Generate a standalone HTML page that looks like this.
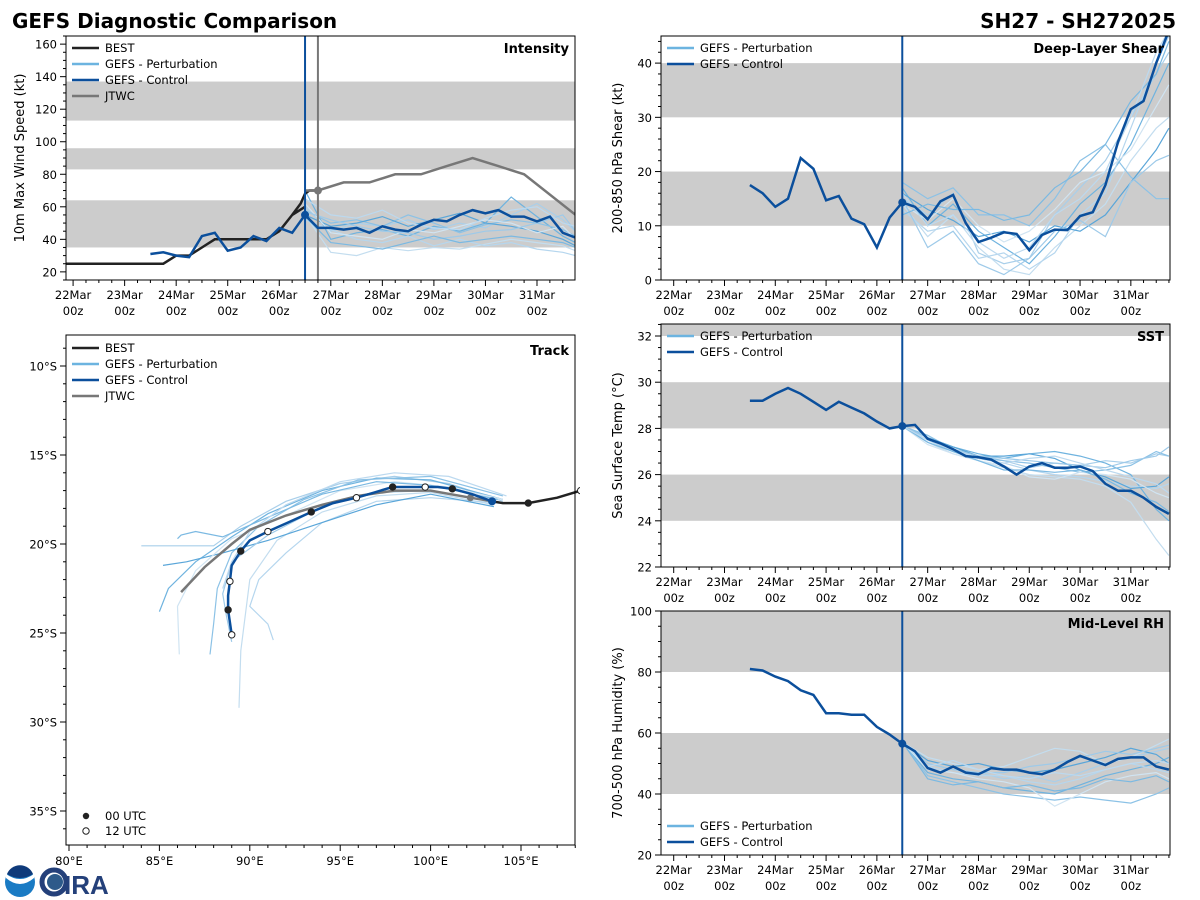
<!DOCTYPE html>
<html><head><meta charset="utf-8"><style>
html,body{margin:0;padding:0;background:#fff;width:1200px;height:900px;overflow:hidden}
svg{display:block;font-family:"DejaVu Sans","Liberation Sans",sans-serif}
</style></head><body>
<svg id="chart" width="1200" height="900" viewBox="0 0 1200 900" xmlns="http://www.w3.org/2000/svg">
<text x="12" y="28" font-size="20" font-weight="bold">GEFS Diagnostic Comparison</text>
<text x="1176" y="28" font-size="20" font-weight="bold" text-anchor="end">SH27 - SH272025</text>
<g>
<circle cx="20" cy="882" r="15" fill="#1a7bc4"/>
<path d="M6,878 Q20,890 34,878 L34,874 Q20,884 6,874Z" fill="#fff"/>
<path d="M7,874 A14,14 0 0 1 33,874 Q20,882 7,874Z" fill="#0e3a7a"/>
<circle cx="54" cy="882" r="12" fill="none" stroke="#24407a" stroke-width="5"/>
<circle cx="55" cy="882" r="8" fill="#2d5a8a"/>
<text x="64" y="894" font-size="26" font-weight="bold" fill="#24407a" font-family="Liberation Sans, sans-serif">IRA</text>
</g>
</svg>
<script>
// ---------- DATA ----------
const dayLabels = ["22Mar","23Mar","24Mar","25Mar","26Mar","27Mar","28Mar","29Mar","30Mar","31Mar"];
const bestTimes = [-6,0,6,12,18,24,30,36,42,48,54,60,66,72,78,84,90,96,102,108];
const bestIntensity = [25,25,25,25,25,25,25,25,25,30,30,35,40,40,40,40,40,45,55,60];
const ctrlTimes = [36,42,48,54,60,66,72,78,84,90,96,102,108,114,120,126,132,138,144,150,156,162,168,174,180,186,192,198,204,210,216,222,228,234];
const ctrlIntensity = [31,32,30,29,42,44,33,35,42,39,47,44,55,47,47,46,47,44,48,46,45,49,52,51,55,58,56,58,54,54,51,54,44,41];
const bestIntTail = [[102,55],[106,62],[108,68],[110,70],[114,70]];
const jtwcTimes = [108,114,126,138,150,162,174,186,198,210,234];
const jtwcIntensity = [70,70,75,75,80,80,85,90,85,80,55];
const pertTimes = [108,120,132,144,156,168,180,192,204,216,228,234];
const pertIntensity = [
[60,45,50,48,52,46,50,47,55,62,52,45],[70,40,44,46,42,48,45,50,66,54,42,38],
[55,32,30,35,33,35,34,37,40,38,36,33],[58,50,52,48,55,50,44,49,52,50,46,42],
[52,46,40,38,42,36,40,36,38,34,32,30],[55,48,50,54,48,52,56,50,48,45,40,36],
[62,44,42,40,46,44,48,52,50,44,48,40],[57,52,48,45,44,40,42,45,46,50,55,45],
[54,38,36,34,38,42,38,40,42,40,38,35],[65,55,53,58,50,47,46,53,58,60,50,48]];
const ctrlShear = [17.5,16,13.5,15,22.5,20.5,14.7,15.5,11.3,10.3,6,11.5,14.3,13.5,11.2,14.5,15.7,10.5,7,7.8,8.8,8.5,5.5,8.3,9.3,9.2,11.8,12.5,17.5,25.5,31.5,33,40,46];
const pertShear = [
[15,12,16,5,3,4,12,17,22,30,38,42],[17,10,14,9,6,3,8,14,18,25,35,40],
[14,8,12,6,2,1,6,10,14,22,28,30],[18,15,17,12,12,10,15,22,25,19,15,15],
[13,9,10,4,5,2,5,12,16,28,40,45],[16,13,11,8,9,7,10,9,12,18,24,28],
[14,11,15,10,7,9,13,18,20,24,32,36],[15,6,9,3,1,4,9,11,8,18,22,23],
[12,14,13,13,11,12,17,20,25,33,38,44],[16,10,12,7,4,6,12,15,20,30,42,46]];
const ctrlSST = [29.2,29.2,29.5,29.75,29.5,29.15,28.8,29.15,28.9,28.65,28.3,28.0,28.1,28.15,27.55,27.35,27.1,26.8,26.75,26.65,26.35,26.0,26.35,26.5,26.3,26.3,26.35,26.15,25.6,25.3,25.3,25.0,24.6,24.3];
const pertSST = [
[28.1,27.5,27.0,26.7,26.6,26.3,26.5,26.4,26.6,26.5,26.9,26.8],[28.1,27.6,27.2,26.9,26.7,26.9,27.0,26.8,26.5,26.0,24.5,24.0],
[28.1,27.4,26.9,26.6,26.3,26.0,25.9,25.8,25.5,24.8,23.2,22.5],[28.1,27.7,27.1,26.8,26.6,26.5,26.3,26.1,26.2,26.4,27.0,26.8],
[28.1,27.5,27.0,26.7,26.5,26.2,26.0,25.9,25.7,25.5,25.4,25.6],[28.1,27.6,27.2,26.8,26.8,26.9,26.7,26.2,25.9,25.4,25.5,25.9],
[28.1,27.3,26.9,26.6,26.4,25.9,25.8,26.1,26.0,25.8,25.2,25.0],[28.1,27.6,27.1,26.8,26.7,26.6,26.5,26.4,26.3,26.6,26.8,27.2],
[28.1,27.4,27.0,26.6,26.2,26.2,26.1,26.2,25.8,25.2,24.8,24.4],[28.1,27.5,27.1,26.7,26.5,26.7,26.8,26.5,26.2,25.9,25.6,25.2]];
const ctrlRH = [81,80.5,78.5,77,74,72.5,66.5,66.5,66,66,62,59.5,56.5,54,48.5,47,49,47,46.5,48.5,48,48,47,46.5,48,50.5,52.5,51,49.5,51.5,52,52,49,48];
const pertRH = [
[57,50,48,47,45,46,44,47,50,52,54,55],[57,47,45,44,42,41,40,43,46,48,50,52],
[57,52,50,48,49,52,55,54,50,52,56,58],[57,46,44,42,40,39,38,39,38,37,40,42],
[57,49,47,46,46,44,43,45,48,50,48,47],[57,51,49,50,48,47,48,50,52,55,53,50],
[57,48,47,45,44,42,36,40,44,46,47,45],[57,50,48,47,47,49,50,52,54,53,55,56],
[57,45,43,44,42,43,41,42,45,44,46,44],[57,49,51,48,46,45,47,46,48,50,51,50]];
// track (lon E, lat negative = S)
const bestLon = [109,108.3,107,105.4,104,103.4];
const bestLat = [-16.8,-17.0,-17.4,-17.7,-17.7,-17.6];
const bestDotType = [null,"open",null,"filled",null,null];
const ctrlLon = [103.4,102.3,101.2,100.4,99.7,98.8,97.9,96.9,95.9,94.6,93.4,92.1,91.0,90.0,89.5,89.0,88.9,88.8,88.8,88.9,89.0];
const ctrlLat = [-17.6,-17.2,-16.9,-16.8,-16.8,-16.8,-16.8,-17.1,-17.4,-17.7,-18.2,-18.8,-19.3,-19.8,-20.4,-21.2,-22.1,-22.9,-23.7,-24.4,-25.1];
const ctrlDotType = [null,null,"filled",null,"open",null,"filled",null,"open",null,"filled",null,"open",null,"filled",null,"open",null,"filled",null,"open"];
const jtwcLon = [103.4,102.2,100,98,96,94,92,90,89,87.5,86.2];
const jtwcLat = [-17.6,-17.4,-17.0,-17.0,-17.3,-17.8,-18.4,-19.2,-20,-21.3,-22.7];
const pertTrackLon = [
[104,101,98,95,92,89.5,88,86,84],[104,100,97,94,91,89,87,85.5,85],[103.5,100,97,94,91.5,90,89.5,89.4],
[104,100,96,93,90.5,89,88.2,88,87.8],[103.8,100,97,94,92,90.5,90,91,91.3],[103.5,100,97,94,91,88.5,86.5,85.2],
[104,101,98,95,92,89,87,86,86.1],[103.5,100,97,94,91,89,88.5,88.7,89],[103.7,100,97,94,91,88.5,87,86.2,86],
[104.2,101,98,95,92,90,89,88.5]];
const pertTrackLat = [
[-17.6,-16.6,-16.2,-16.6,-17.6,-19.0,-20.1,-20.1,-20.1],[-17.5,-16.4,-16.3,-17.0,-18.3,-19.6,-21.0,-22.5,-23.8],[-17.8,-17.1,-17.3,-18.2,-19.8,-22,-26,-29.2],
[-17.3,-16.2,-16.4,-17.5,-19,-20.5,-22.5,-24.5,-26.2],[-17.7,-17.4,-17.6,-18.8,-20.5,-22,-23.5,-24.5,-25.4],[-17.9,-17.2,-17.8,-18.8,-19.8,-20.5,-21,-21.2],
[-17.5,-16.8,-16.5,-17.0,-18.4,-19.7,-21.5,-23.5,-26.2],[-17.6,-17.0,-17.1,-17.9,-19.5,-21,-22.8,-24,-25.5],[-17.5,-16.7,-16.5,-17.2,-18.5,-19.6,-19.3,-19.5,-19.7],
[-17.3,-16.2,-16.0,-16.5,-17.8,-19.3,-21,-22.5]];
const lonTicks = [80,85,90,95,100,105];
const latTicks = [-10,-15,-20,-25,-30,-35];

// ---------- DRAW ----------
const NS = "http://www.w3.org/2000/svg";
const svg = document.getElementById("chart");
const CTRL = "#0b4f9c", PERT = ["#a9cfea","#6fb3df","#c3ddef","#8cc2e6","#b5d6ee","#5aa6d9","#d0e4f2","#9ecae9","#7bb9e2","#bcd9ef"];
const GRAY = "#777777", BAND = "#cccccc";
const FS = 11.5;
function mk(tag, attrs, parent) {
  const e = document.createElementNS(NS, tag);
  for (const k in attrs) e.setAttribute(k, attrs[k]);
  (parent || svg).appendChild(e);
  return e;
}
function txt(s, attrs, parent) { const e = mk("text", attrs, parent); e.textContent = s; return e; }
function pts(xs, ys, fx, fy) { return xs.map((v, i) => fx(v).toFixed(1) + "," + fy(ys[i]).toFixed(1)).join(" "); }

let clipId = 0;
function panel(cfg) {
  const g = mk("g", {});
  
  
  const X = t => cfg.x0 + (t - cfg.t0) / (cfg.t1 - cfg.t0) * (cfg.x1 - cfg.x0);
  const Y = v => cfg.y1 - (v - cfg.v0) / (cfg.v1 - cfg.v0) * (cfg.y1 - cfg.y0);
  const cid = "clip" + (clipId++);
  const cp = mk("clipPath", {id: cid}, g);
  mk("rect", {x: cfg.x0, y: cfg.y0, width: cfg.x1 - cfg.x0, height: cfg.y1 - cfg.y0}, cp);
  const plot = mk("g", {"clip-path": "url(#" + cid + ")"}, g);
  cfg.bands.forEach(b => {
    const r = mk("rect", {x: cfg.x0, y: Y(b[1]), width: cfg.x1 - cfg.x0, height: Y(b[0]) - Y(b[1]), fill: BAND}, plot);
    
    
  });
  cfg.pert.forEach((p, i) => {
    const l = mk("polyline", {points: pts(pertTimes, p, X, Y), fill: "none", stroke: PERT[i % PERT.length], "stroke-width": 1.2}, plot);
    
    
  });
  if (cfg.extra) cfg.extra(plot, X, Y);
  const c = mk("polyline", {points: pts(ctrlTimes, cfg.ctrl, X, Y), fill: "none", stroke: CTRL, "stroke-width": 2.5}, plot);
  
  
  const vl = mk("line", {x1: X(108), x2: X(108), y1: cfg.y0, y2: cfg.y1, stroke: CTRL, "stroke-width": 2}, plot);
  
  
  const ci = ctrlTimes.indexOf(108);
  const dot = mk("circle", {cx: X(108), cy: Y(cfg.ctrl[ci]), r: 4, fill: CTRL}, plot);
  
  
  const fr = mk("rect", {x: cfg.x0, y: cfg.y0, width: cfg.x1 - cfg.x0, height: cfg.y1 - cfg.y0, fill: "none", stroke: "#000", "stroke-width": 1}, g);
  
  
  for (let t = 0; t <= 234; t += 6) {
    if (X(t) < cfg.x0 || X(t) > cfg.x1) continue;
    const major = t % 24 === 0;
    mk("line", {x1: X(t), x2: X(t), y1: cfg.y1, y2: cfg.y1 + (major ? 6 : 3), stroke: "#000", "stroke-width": 1}, g);
  }
  dayLabels.forEach((d, i) => {
    const xt = X(i * 24);
    const a = txt(d, {x: xt, y: cfg.y1 + 19, "font-size": FS, "text-anchor": "middle"}, g);
    
    
    const b = txt("00z", {x: xt, y: cfg.y1 + 35, "font-size": FS, "text-anchor": "middle"}, g);
    
    
  });
  for (let v = cfg.v0; v <= cfg.v1 + 1e-6; v += cfg.minor) {
    const vv = Math.round(v * 100) / 100;
    const isMaj = Math.abs(((vv - cfg.tick0) / cfg.major) - Math.round((vv - cfg.tick0) / cfg.major)) < 1e-6 && vv >= cfg.tick0;
    mk("line", {x1: cfg.x0 - (isMaj ? 6 : 3), x2: cfg.x0, y1: Y(vv), y2: Y(vv), stroke: "#000", "stroke-width": 1}, g);
    if (isMaj) {
      const l = txt(String(vv), {x: cfg.x0 - 9, y: Y(vv) + 4.5, "font-size": FS, "text-anchor": "end"}, g);
      
      
    }
  }
  const yc = (cfg.y0 + cfg.y1) / 2;
  const yl = txt(cfg.ylabel, {x: cfg.ylx, y: yc, "font-size": 13, "text-anchor": "middle", transform: "rotate(-90 " + cfg.ylx + " " + yc + ")"}, g);
  
  
  const tt = txt(cfg.title, {x: cfg.x1 - 6, y: cfg.y0 + 17, "font-size": 13, "font-weight": "bold", "text-anchor": "end"}, g);
  
  
  legend(g, cfg.x0 + 6, cfg.legendY, cfg.legend);
  return g;
}
function legend(g, x, y, items) {
  const lg = mk("g", {}, g);
  
  
  items.forEach((it, i) => {
    const yy = y + i * 16;
    const e = mk("g", {}, lg);
    
    
    mk("line", {x1: x, x2: x + 27, y1: yy, y2: yy, stroke: it[1], "stroke-width": 2.5}, e);
    txt(it[0], {x: x + 33, y: yy + 4, "font-size": FS}, e);
  });
}
const PL = ["GEFS - Perturbation", "#6cb4e0"], CL = ["GEFS - Control", CTRL];

panel({name: "intensity", x0: 66, x1: 575, y0: 36, y1: 280, t0: -3.3, t1: 233.7, v0: 15, v1: 165,
  bands: [[35,64],[83,96],[113,137]], tick0: 20, major: 20, minor: 5, pert: pertIntensity, ctrl: ctrlIntensity,
  ylabel: "10m Max Wind Speed (kt)", ylx: 24, title: "Intensity", legendY: 48,
  legend: [["BEST", "#222"], PL, CL, ["JTWC", GRAY]],
  extra: (p, X, Y) => {
    const b = mk("polyline", {points: pts(bestTimes, bestIntensity, X, Y) + " " + bestIntTail.map(q => X(q[0]).toFixed(1) + "," + Y(q[1]).toFixed(1)).join(" "), fill: "none", stroke: "#222", "stroke-width": 2.5}, p);
    
    
    const j = mk("polyline", {points: pts(jtwcTimes, jtwcIntensity, X, Y), fill: "none", stroke: GRAY, "stroke-width": 2.5}, p);
    
    
    const jl = mk("line", {x1: X(114), x2: X(114), y1: 36, y2: 280, stroke: GRAY, "stroke-width": 2}, p);
    
    
    const jd = mk("circle", {cx: X(114), cy: Y(70), r: 4, fill: GRAY}, p);
    
    
  }});
panel({name: "shear", x0: 661, x1: 1170, y0: 36, y1: 280, t0: -6, t1: 234.5, v0: 0, v1: 45,
  bands: [[10,20],[30,40]], tick0: 0, major: 10, minor: 2, pert: pertShear, ctrl: ctrlShear,
  ylabel: "200-850 hPa Shear (kt)", ylx: 622, title: "Deep-Layer Shear", legendY: 48, legend: [PL, CL]});
panel({name: "sst", x0: 661, x1: 1170, y0: 324, y1: 567, t0: -6, t1: 234.5, v0: 22, v1: 32.52,
  bands: [[24,26],[28,30],[32,33]], tick0: 22, major: 2, minor: 0.5, pert: pertSST, ctrl: ctrlSST,
  ylabel: "Sea Surface Temp (°C)", ylx: 622, title: "SST", legendY: 336, legend: [PL, CL]});
panel({name: "rh", x0: 661, x1: 1170, y0: 611, y1: 855, t0: -6, t1: 234.5, v0: 20, v1: 100,
  bands: [[40,60],[80,100]], tick0: 20, major: 20, minor: 5, pert: pertRH, ctrl: ctrlRH,
  ylabel: "700-500 hPa Humidity (%)", ylx: 622, title: "Mid-Level RH", legendY: 826, legend: [PL, CL]});

// ---------- TRACK ----------
(function () {
  const x0 = 66, x1 = 575, y0 = 335, y1 = 845;
  const LX = lon => 69 + (lon - 80) * (521 - 69) / 25;
  const LY = lat => 366 + (-10 - lat) * (811 - 366) / 25;
  const g = mk("g", {});
  
  
  const cp = mk("clipPath", {id: "trackclip"}, g);
  mk("rect", {x: x0, y: y0 - 5, width: x1 - x0 + 5, height: y1 - y0 + 5}, cp);
  const p = mk("g", {"clip-path": "url(#trackclip)"}, g);
  pertTrackLon.forEach((lo, i) => {
    const l = mk("polyline", {points: pts(lo, pertTrackLat[i], LX, LY), fill: "none", stroke: PERT[i], "stroke-width": 1.2}, p);
    
    
  });
  const j = mk("polyline", {points: pts(jtwcLon, jtwcLat, LX, LY), fill: "none", stroke: GRAY, "stroke-width": 2.5}, p);
  
  
  const jd = mk("circle", {cx: LX(jtwcLon[1]), cy: LY(jtwcLat[1]), r: 3.5, fill: GRAY}, p);
  
  
  const b = mk("polyline", {points: pts(bestLon, bestLat, LX, LY), fill: "none", stroke: "#222", "stroke-width": 2.5}, p);
  
  
  const c = mk("polyline", {points: pts(ctrlLon, ctrlLat, LX, LY), fill: "none", stroke: CTRL, "stroke-width": 2.5}, p);
  
  
  const cd = mk("circle", {cx: LX(ctrlLon[0]), cy: LY(ctrlLat[0]), r: 4, fill: CTRL}, p);
  
  
  const dots = (lo, la, ty) => lo.forEach((v, i) => {
    if (!ty[i]) return;
    const d = mk("circle", {cx: LX(v), cy: LY(la[i]), r: 3.2, fill: ty[i] === "filled" ? "#222" : "#fff", stroke: "#222", "stroke-width": 1}, p);
    
    
  });
  dots(bestLon, bestLat, bestDotType);
  dots(ctrlLon, ctrlLat, ctrlDotType);
  const fr = mk("rect", {x: x0, y: y0, width: x1 - x0, height: y1 - y0, fill: "none", stroke: "#000"}, g);
  
  
  for (let lo = 80; lo <= 108; lo++) mk("line", {x1: LX(lo), x2: LX(lo), y1: y1, y2: y1 + (lo % 5 === 0 ? 6 : 3), stroke: "#000"}, g);
  lonTicks.forEach(lo => {
    const t = txt(lo + "°E", {x: LX(lo), y: y1 + 20, "font-size": FS, "text-anchor": "middle"}, g);
    
    
  });
  for (let la = -9; la >= -36; la--) mk("line", {x1: x0 - (la % 5 === 0 ? 6 : 3), x2: x0, y1: LY(la), y2: LY(la), stroke: "#000"}, g);
  latTicks.forEach(la => {
    const t = txt((-la) + "°S", {x: x0 - 9, y: LY(la) + 4.5, "font-size": FS, "text-anchor": "end"}, g);
    
    
  });
  const tt = txt("Track", {x: x1 - 6, y: y0 + 20, "font-size": 13, "font-weight": "bold", "text-anchor": "end"}, g);
  
  
  legend(g, 72, 348, [["BEST", "#222"], PL, CL, ["JTWC", GRAY]]);
  const ml = mk("g", {}, g);
  
  
  mk("circle", {cx: 86, cy: 816, r: 3.2, fill: "#222"}, ml);
  txt("00 UTC", {x: 105, y: 820, "font-size": FS}, ml);
  mk("circle", {cx: 86, cy: 831, r: 3.2, fill: "#fff", stroke: "#222"}, ml);
  txt("12 UTC", {x: 105, y: 835, "font-size": FS}, ml);
})();
</script>
</body></html>
